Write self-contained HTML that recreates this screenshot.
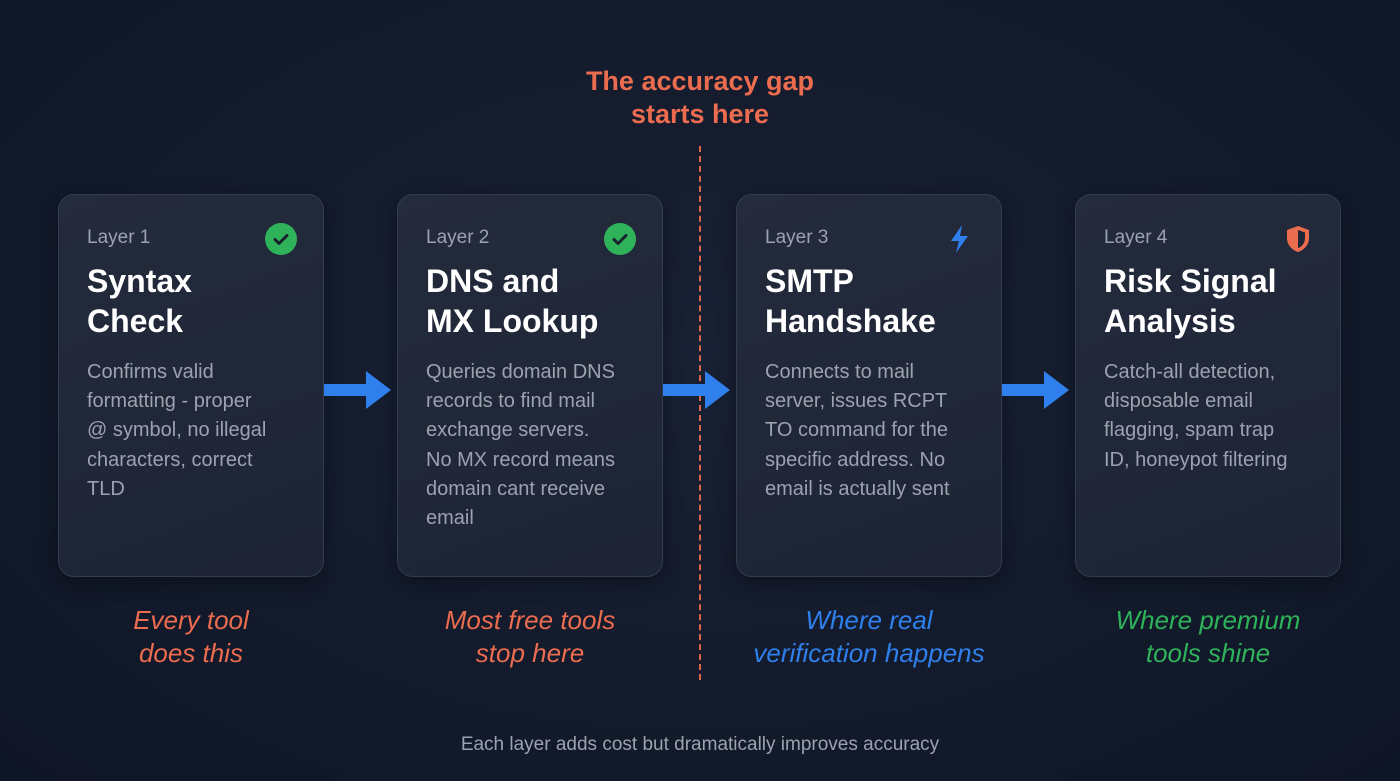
<!DOCTYPE html>
<html><head><meta charset="utf-8"><style>
*{margin:0;padding:0;box-sizing:border-box}
body{width:1400px;height:781px;overflow:hidden;background:radial-gradient(ellipse at 50% 45%,#182033 0%,#121a2b 60%,#0f1626 100%);font-family:"Liberation Sans",sans-serif;position:relative}
.card{position:absolute;top:194px;width:266px;height:383px;border-radius:16px;background:linear-gradient(160deg,#242b3c,#1d2435);border:1.5px solid #343c4f;box-shadow:0 6px 18px rgba(0,0,0,.35)}
.lay{position:absolute;left:28px;top:32px;font-size:19px;color:#9ba2b0}
.t{position:absolute;left:28px;top:66px;font-size:32px;font-weight:bold;color:#fff;line-height:40px}
.d{position:absolute;left:28px;top:163px;width:240px;font-size:20px;color:#9ba2b0;line-height:29.2px;white-space:nowrap}
.ic{position:absolute;right:26px;top:28px;width:32px;height:32px}
.cap{position:absolute;top:604px;width:266px;text-align:center;font-size:26px;font-style:italic;line-height:33px}
.arr{position:absolute;top:371px}
</style></head><body>
<div style="position:absolute;left:0;width:1400px;top:65px;text-align:center;color:#ec6c4f;font-size:27px;font-weight:bold;line-height:33px">The accuracy gap<br>starts here</div>
<div style="position:absolute;left:699px;top:146px;height:534px;border-left:2px dashed #d9654b"></div>

<div class="card" style="left:58px"><div class="lay">Layer 1</div>
<svg class="ic" viewBox="0 0 32 32"><circle cx="16" cy="16" r="16" fill="#2fb35a"/><path d="M10 16.5l4 4 8-8" stroke="#1a2230" stroke-width="3" fill="none" stroke-linecap="round" stroke-linejoin="round"/></svg>
<div class="t">Syntax<br>Check</div><div class="d">Confirms valid<br>formatting - proper<br>@ symbol, no illegal<br>characters, correct<br>TLD</div></div>

<div class="card" style="left:397px"><div class="lay">Layer 2</div>
<svg class="ic" viewBox="0 0 32 32"><circle cx="16" cy="16" r="16" fill="#2fb35a"/><path d="M10 16.5l4 4 8-8" stroke="#1a2230" stroke-width="3" fill="none" stroke-linecap="round" stroke-linejoin="round"/></svg>
<div class="t">DNS and<br>MX Lookup</div><div class="d">Queries domain DNS<br>records to find mail<br>exchange servers.<br>No MX record means<br>domain cant receive<br>email</div></div>

<div class="card" style="left:736px"><div class="lay">Layer 3</div>
<svg class="ic" viewBox="0 0 32 32"><path d="M19 2L8 18h8l-3 12 12-17h-8z" fill="#2f80ed"/></svg>
<div class="t">SMTP<br>Handshake</div><div class="d">Connects to mail<br>server, issues RCPT<br>TO command for the<br>specific address. No<br>email is actually sent</div></div>

<div class="card" style="left:1075px"><div class="lay">Layer 4</div>
<svg class="ic" viewBox="0 0 32 32"><path d="M16 3L5 7v8c0 7 5 12 11 14 6-2 11-7 11-14V7z" fill="#ec6c4f"/><path d="M16 7l7 2.5V15c0 5-3 8.5-7 10.2z" fill="#1f2636"/></svg>
<div class="t">Risk Signal<br>Analysis</div><div class="d">Catch-all detection,<br>disposable email<br>flagging, spam trap<br>ID, honeypot filtering</div></div>

<svg class="arr" style="left:324px" width="70" height="38" viewBox="0 0 70 38"><path d="M0 13h42V0l25 19-25 19V25H0z" fill="#2f80ed"/></svg>
<svg class="arr" style="left:663px" width="70" height="38" viewBox="0 0 70 38"><path d="M0 13h42V0l25 19-25 19V25H0z" fill="#2f80ed"/></svg>
<svg class="arr" style="left:1002px" width="70" height="38" viewBox="0 0 70 38"><path d="M0 13h42V0l25 19-25 19V25H0z" fill="#2f80ed"/></svg>

<div class="cap" style="left:58px;color:#ec6c4f">Every tool<br>does this</div>
<div class="cap" style="left:397px;color:#ec6c4f">Most free tools<br>stop here</div>
<div class="cap" style="left:736px;width:266px;color:#2f80ed;white-space:nowrap">Where real<br>verification happens</div>
<div class="cap" style="left:1075px;color:#2fb35a">Where premium<br>tools shine</div>

<div style="position:absolute;left:0;width:1400px;top:734px;text-align:center;font-size:19px;color:#9ba2b0">Each layer adds cost but dramatically improves accuracy</div>
</body></html>
